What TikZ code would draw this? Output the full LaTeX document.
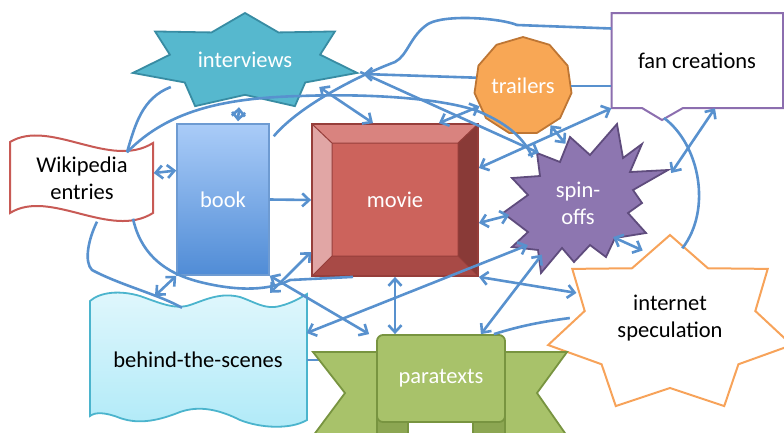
\documentclass[tikz,border=0pt]{standalone}
\usepackage{fontspec}
\setmainfont{Carlito}
\usetikzlibrary{calc}
\usetikzlibrary{arrows.meta}
\usetikzlibrary{shapes.geometric}

\definecolor{linkblue}{RGB}{88,145,206}
\definecolor{intfill}{RGB}{86,184,206}
\definecolor{intborder}{RGB}{56,140,163}
\definecolor{trailfill}{RGB}{248,167,85}
\definecolor{trailborder}{RGB}{190,118,52}
\definecolor{fanborder}{RGB}{140,110,175}
\definecolor{wikiborder}{RGB}{200,90,85}
\definecolor{booktop}{RGB}{170,204,248}
\definecolor{bookbot}{RGB}{80,140,214}
\definecolor{bookborder}{RGB}{110,155,210}
\definecolor{moviemain}{RGB}{204,99,92}
\definecolor{movietop}{RGB}{217,131,127}
\definecolor{movieleft}{RGB}{225,166,165}
\definecolor{movieright}{RGB}{137,58,55}
\definecolor{moviebot}{RGB}{168,74,70}
\definecolor{movieborder}{RGB}{150,62,58}
\definecolor{spinfill}{RGB}{141,118,176}
\definecolor{spinborder}{RGB}{95,76,125}
\definecolor{netborder}{RGB}{247,163,90}
\definecolor{behindtop}{RGB}{224,247,252}
\definecolor{behindbot}{RGB}{176,234,248}
\definecolor{behindborder}{RGB}{75,180,205}
\definecolor{parafill}{RGB}{168,194,106}
\definecolor{paradark}{RGB}{140,166,82}
\definecolor{paraborder}{RGB}{120,148,64}

% seven pointed star: style, cx, cy, rx, ry, inner ratio
\newcommand{\sevenstar}[6]{%
  \draw[#1] plot[variable=\k, samples at={0,...,13}]
    ({#2+#4*(1-(1-#6)*mod(\k,2))*cos(90+\k*360/14)},
     {#3-#5*(1-(1-#6)*mod(\k,2))*sin(90+\k*360/14)}) -- cycle;}

\begin{document}
\begin{tikzpicture}[x=1pt,y=-1pt,font=\fontsize{22.5}{27}\selectfont,
  link/.style={draw=linkblue, line width=2.6pt},
  >={Straight Barb[length=7pt,width=13pt]}]
\useasboundingbox (0,0) rectangle (784,432);

% Wikipedia banner
\draw[wikiborder, line width=2pt, fill=white] (10,142) .. controls (50,118) and (110,170) .. (153,143)
  -- (153,213) .. controls (110,240) and (50,188) .. (10,213) -- cycle;
\node[minimum width=143, minimum height=71, align=center] (wiki) at (82,178) {Wikipedia\\entries};

% behind-the-scenes wave
\draw[behindborder, line width=1.8pt, top color=behindtop, bottom color=behindbot]
  (90,301) .. controls (100,292) and (120,290) .. (140,296) .. controls (160,303) and (175,310) .. (190,305)
  .. controls (205,300) and (220,292) .. (240,297) .. controls (255,302) and (265,310) .. (280,306)
  .. controls (292,303) and (300,298) .. (307,294)
  -- (307,420) .. controls (290,430) and (260,428) .. (240,420) .. controls (220,410) and (200,405) .. (180,412)
  .. controls (160,420) and (140,425) .. (120,418) .. controls (105,412) and (95,412) .. (90,416) -- cycle;
\node[minimum width=217, minimum height=118] (behind) at (198,360) {behind-the-scenes};

% book
\node[draw=bookborder, line width=1.5pt, top color=booktop, bottom color=bookbot,
  minimum width=92, minimum height=151, text=white] (book) at (223,199.5) {book};

% movie, bevelled box
\fill[moviemain] (332,143) rectangle (458,256);
\fill[movietop] (312,124) -- (478,124) -- (458,143) -- (332,143) -- cycle;
\fill[movieleft] (312,124) -- (332,143) -- (332,256) -- (312,276) -- cycle;
\fill[movieright] (478,124) -- (478,276) -- (458,256) -- (458,143) -- cycle;
\fill[moviebot] (312,276) -- (478,276) -- (458,256) -- (332,256) -- cycle;
\draw[movieborder, line width=1pt] (312,124) -- (332,143) (478,124) -- (458,143)
  (312,276) -- (332,256) (478,276) -- (458,256) (332,143) rectangle (458,256);
\node[draw=movieborder, line width=1.8pt, minimum width=166, minimum height=152, text=white] (movie) at (395,200) {movie};

% interviews
\sevenstar{draw=intborder, fill=intfill, line width=1.8pt}{245}{62}{115}{49}{0.67}
\node[ellipse, minimum width=200, minimum height=80, text=white] (interviews) at (245,60) {interviews};

% trailers
\node[regular polygon, regular polygon sides=11, minimum size=98, inner sep=0pt, fill=trailfill,
  draw=trailborder, line width=1.8pt, text=white] (trailers) at (523,86) {trailers};

% fan creations, box with a small tail
\draw[fanborder, line width=2pt, fill=white] (611.5,13) -- (783,13) -- (783,108) -- (683,108)
  -- (662,120) -- (642,108) -- (611.5,108) -- cycle;
\coordinate (fantail) at (664,118);
\node[minimum width=171, minimum height=95] (fan) at (697,60.5) {fan creations};

% spin-offs
\draw[spinborder, fill=spinfill, line width=1.8pt] (617,124) -- (623,158) -- (642,144) -- (630,172)
  -- (668,170) -- (633,190) -- (642,203) -- (628,213) -- (646,233) -- (615,238) -- (606,257)
  -- (590,245) -- (574,262) -- (562,248) -- (541,273) -- (538,250) -- (512,247) -- (528,232)
  -- (503,213) -- (528,195) -- (512,178) -- (540,176) -- (537,153) -- (560,162) -- (570,137)
  -- (590,155) -- cycle;
\node[ellipse, minimum width=140, minimum height=120, text=white, align=center] (spinoffs) at (578,203) {spin-\\offs};

% internet speculation
\sevenstar{draw=netborder, fill=white, line width=2pt}{670}{325}{125}{90}{0.7}
\node[ellipse, minimum width=200, minimum height=140, align=center] (internet) at (670,318) {internet\\speculation};

% line into the ribbon, under it
\draw[link] (behind.east) -- (behind.east -| 377,0);

% paratexts ribbon
\draw[paraborder, fill=parafill, line width=1.8pt] (313,352) -- (345,393) -- (313,436) -- (395,436) -- (395,352) -- cycle;
\draw[paraborder, fill=parafill, line width=1.8pt] (567,352) -- (537,393) -- (567,436) -- (485,436) -- (485,352) -- cycle;
\draw[paraborder, fill=paradark, line width=1.8pt, rounded corners=5] (377,405) rectangle (408,440);
\draw[paraborder, fill=paradark, line width=1.8pt, rounded corners=5] (473,405) rectangle (505,440);
\node[draw=paraborder, fill=parafill, line width=1.8pt, rounded corners=6,
  minimum width=128, minimum height=87, text=white] (paratexts) at (441,378.5) {paratexts};

% arrows
\draw[link,<->] ([yshift=5]wiki.east) -- ([yshift=29]book.west);
\draw[link,->] (book.east) -- (movie.west);
\draw[link,<->] ([xshift=-6,yshift=-7]interviews.south) -- ([xshift=15,yshift=2]book.north);
\draw[link,<->] (interviews.-20) -- ([xshift=-22]movie.north);
\draw[link,->] (trailers.170) -- ([xshift=18,yshift=-14]interviews.east);
\draw[link,->] ([xshift=15,yshift=-12]interviews.east) -- (spinoffs.128);
\draw[link,<->] (trailers.-55) -- (spinoffs.102);
\draw[link,<->] ([xshift=-40]movie.north east) -- (trailers.205);
\draw[link,<->] ([yshift=32]movie.east) -- (fan.south west);
\draw[link,<->] ([xshift=23,yshift=30]spinoffs.east) -- ([xshift=18]fan.south);
\draw[link] (trailers.east) -- (trailers.east -| fan.west);
\draw[link,<->] ([yshift=-23]movie.east) -- (spinoffs.190);
\draw[link,<->] ([xshift=-15,yshift=8]spinoffs.-40) -- (internet.112);
\draw[link,<->] (movie.south east) -- (internet.165);
\draw[link,<->] (movie.south) -- (movie.south |- paratexts.north);
\draw[link,<->] (spinoffs.220) -- ([yshift=27]behind.east);
\draw[link,<->] (spinoffs.235) -- ([xshift=-25]paratexts.north east);
\draw[link,<->] (book.south west) -- ([xshift=-43,yshift=5]behind.north);
\draw[link,<->] ([yshift=-52]movie.west) -- ([xshift=72,yshift=8]behind.north);
\draw[link,<->] (book.south east) -- ([xshift=-7]paratexts.north west);

% freehand lines
\draw[link] (fantail) .. controls (700,145) and (712,210) .. (internet.80);
\draw[link] ([yshift=32]fan.west) -- (517,25) .. controls (500,18) and (445,14) .. (428,24)
  .. controls (410,36) and (408,55) .. (395,62) .. controls (360,75) and (300,105) .. ([xshift=4,yshift=-13]book.north east);
\draw[link] ([xshift=51,yshift=-5]wiki.south) .. controls (140,250) and (160,272) .. (200,282)
  .. controls (240,292) and (270,290) .. (290,280) -- ([xshift=-42]movie.south);
\draw[link] ([xshift=15,yshift=-8]wiki.south) .. controls (88,240) and (84,262) .. (92,270)
  .. controls (120,285) and (160,295) .. ([xshift=-16,yshift=-7]behind.north);
\draw[link] (internet.180) .. controls (540,322) and (520,326) .. ([xshift=-12]paratexts.north east);
\draw[link] ([xshift=45,yshift=-10]wiki.north) .. controls (135,125) and (142,98) .. (interviews.200);
\draw[link] ([xshift=45,yshift=-10]wiki.north) .. controls (170,108) and (230,98) .. (300,96)
  .. controls (380,93) and (450,100) .. (480,112) .. controls (510,125) and (525,140) .. (spinoffs.135);
\end{tikzpicture}
\end{document}
